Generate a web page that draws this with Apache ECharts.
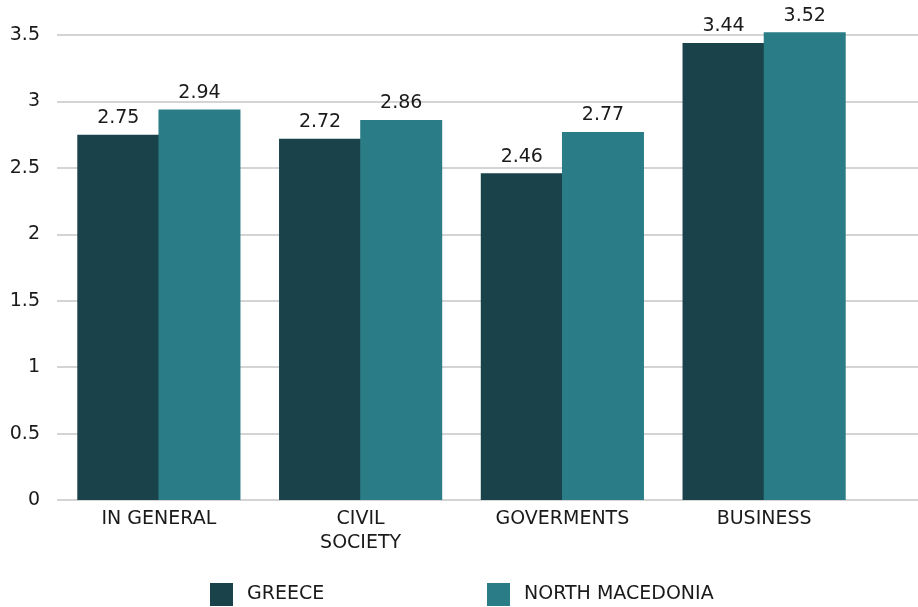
<!DOCTYPE html>
<html>
<head>
<meta charset="utf-8">
<script src="https://cdn.jsdelivr.net/npm/echarts@6/dist/echarts.min.js"></script>
<style>
  html, body { margin: 0; padding: 0; background: #fff; }
  #chart { width: 918px; height: 607px; }
</style>
</head>
<body>
<div id="chart"></div>
<script>
const categories = ['IN GENERAL', 'CIVIL\nSOCIETY', 'GOVERMENTS', 'BUSINESS'];
const greece = [2.75, 2.72, 2.46, 3.44];
const northMacedonia = [2.94, 2.86, 2.77, 3.52];
const seriesNames = ['GREECE', 'NORTH MACEDONIA'];
const yTicks = { min: 0, max: 3.5, step: 0.5 };
const colors = ['#19424A', '#2A7D87'];

const font = '"DejaVu Sans", sans-serif';
const textColor = '#1a1a1a';

const chart = echarts.init(document.getElementById('chart'), null, { renderer: 'canvas' });

const legendText = { fontFamily: font, fontSize: 19, color: textColor, padding: [3, 0, 0, 9] };

chart.setOption({
  backgroundColor: '#ffffff',
  animation: false,
  legend: [
    {
      data: [seriesNames[0]], left: 210, top: 583, padding: 0,
      itemWidth: 23, itemHeight: 23, icon: 'rect', textStyle: legendText
    },
    {
      data: [seriesNames[1]], left: 487, top: 583, padding: 0,
      itemWidth: 23, itemHeight: 23, icon: 'rect', textStyle: legendText
    }
  ],
  grid: [
    // full-width grid carrying the value gridlines and tick labels
    { left: 57, right: 0, top: 35, bottom: 107 },
    // bar grid
    { left: 58, right: 53, top: 35, bottom: 107 }
  ],
  xAxis: [
    { type: 'category', gridIndex: 0, data: [''], show: false },
    {
      type: 'category', gridIndex: 1, data: categories,
      axisLine: { show: false }, axisTick: { show: false },
      axisLabel: { fontFamily: font, fontSize: 19, color: textColor, margin: 7, lineHeight: 24 }
    }
  ],
  yAxis: [
    {
      type: 'value', gridIndex: 0, min: yTicks.min, max: yTicks.max, interval: yTicks.step,
      axisLine: { show: false }, axisTick: { show: false },
      axisLabel: { fontFamily: font, fontSize: 19, color: textColor, margin: 17, padding: [3, 0, 0, 0] },
      splitLine: { lineStyle: { color: '#d4d4d4', width: 2 } }
    },
    {
      type: 'value', gridIndex: 1, min: yTicks.min, max: yTicks.max, interval: yTicks.step, show: false,
      splitLine: { show: false }
    }
  ],
  series: [
    {
      name: seriesNames[0], type: 'bar', xAxisIndex: 1, yAxisIndex: 1,
      data: greece, barWidth: 82, barGap: '-1%', clip: false,
      itemStyle: { color: colors[0] },
      label: { show: true, position: 'top', distance: 7, fontFamily: font, fontSize: 19, color: textColor }
    },
    {
      name: seriesNames[1], type: 'bar', xAxisIndex: 1, yAxisIndex: 1,
      data: northMacedonia, barWidth: 82, barGap: '-1%', clip: false,
      itemStyle: { color: colors[1] },
      label: { show: true, position: 'top', distance: 7, fontFamily: font, fontSize: 19, color: textColor }
    }
  ]
});
</script>
</body>
</html>
